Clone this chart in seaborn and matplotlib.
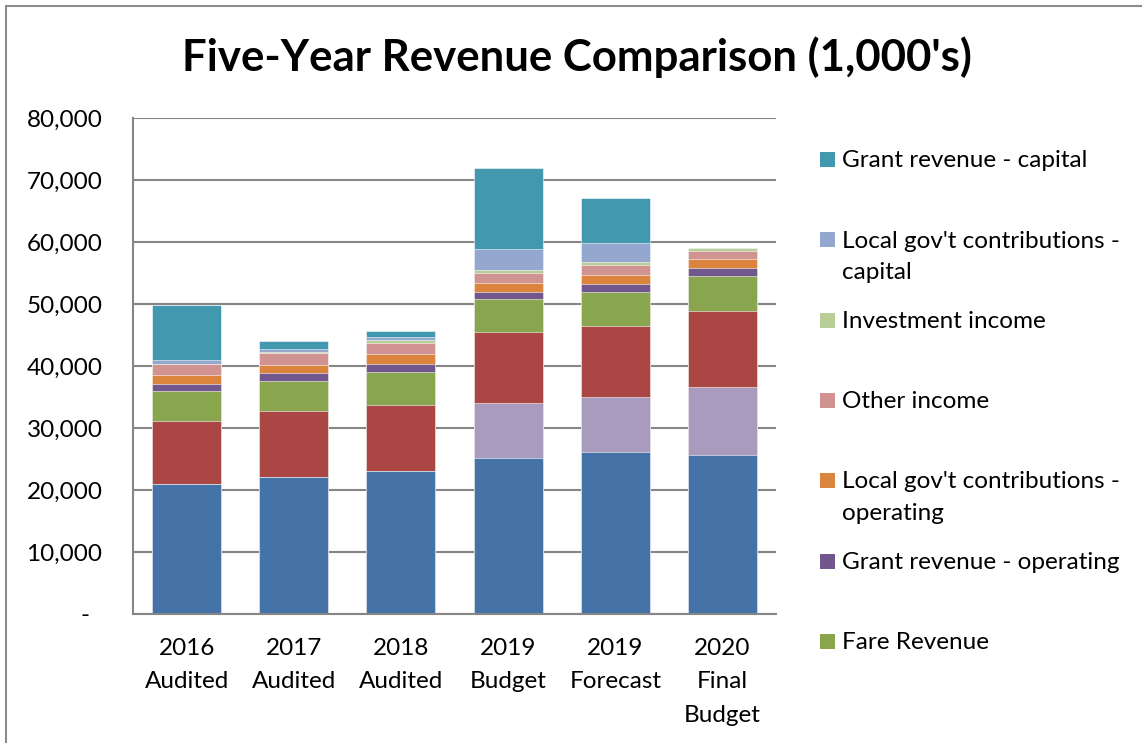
import numpy as np
import pandas as pd
import matplotlib
matplotlib.use("Agg")
import matplotlib.pyplot as plt
from matplotlib.patches import Rectangle
import seaborn as sns

# ---------------- data (1,000's) ----------------
categories = ["2016\nAudited", "2017\nAudited", "2018\nAudited",
              "2019\nBudget", "2019\nForecast", "2020\nFinal\nBudget"]

# series listed bottom -> top of the stack
base_revenue = [21000, 22150, 23100, 25200, 26180, 25650]          # blue (legend entry cut off)
second_revenue = [0, 0, 0, 8760, 8760, 11020]                       # light purple (legend entry cut off)
third_revenue = [10150, 10650, 10650, 11560, 11560, 12260]          # red (legend entry cut off)
fare_revenue = [4800, 4840, 5320, 5220, 5380, 5540]
grant_operating = [1200, 1240, 1240, 1240, 1340, 1400]
local_operating = [1450, 1340, 1670, 1450, 1400, 1450]
other_income = [1700, 1830, 1780, 1610, 1610, 1290]
investment_income = [100, 270, 430, 430, 480, 380]
local_capital = [500, 430, 480, 3390, 3120, 0]
grant_capital = [8900, 1350, 970, 13000, 7310, 0]

series_names = ["Base revenue", "Second revenue", "Third revenue",
                "Fare Revenue", "Grant revenue - operating",
                "Local gov't contributions -\noperating", "Other income",
                "Investment income", "Local gov't contributions -\ncapital",
                "Grant revenue - capital"]
series_values = [base_revenue, second_revenue, third_revenue, fare_revenue,
                 grant_operating, local_operating, other_income,
                 investment_income, local_capital, grant_capital]
series_colors = ["#4573A7", "#A99BBD", "#AA4744", "#89A54E", "#72578F",
                 "#DB843D", "#D09392", "#B9CD97", "#94A8CF", "#4299AF"]
legend_count = 7   # only the top 7 entries fit in the legend box

yticks = [0, 10000, 20000, 30000, 40000, 50000, 60000, 70000, 80000]
ytick_labels = ["-  ", "10,000", "20,000", "30,000", "40,000", "50,000",
                "60,000", "70,000", "80,000"]

# ---------------- style ----------------
sns.set_theme(style="white")
plt.rcParams['font.family'] = ['Lato', 'DejaVu Sans']
FS = 17.5

W, H = 1142, 743
fig = plt.figure(figsize=(W / 100, H / 100), dpi=100)
fig.patch.set_facecolor("white")

ax = fig.add_axes([133 / W, 1 - 614 / H, (776 - 133) / W, (614 - 118) / H])

df = pd.DataFrame({name: vals for name, vals in zip(series_names, series_values)},
                  index=categories)
cum = df.cumsum(axis=1)

# draw cumulative bars from the top series down so lower segments overlay
for name, color in reversed(list(zip(series_names, series_colors))):
    sns.barplot(x=categories, y=cum[name].values, color=color, saturation=1,
                width=0.645, ax=ax, edgecolor=(1, 1, 1, 0.55), linewidth=0.7,
                order=categories)

grid_c = "#868686"
ax.set_ylim(0, 80000)
ax.set_xlim(-0.5, len(categories) - 0.5)
ax.set_yticks(yticks)
ax.set_yticklabels(ytick_labels)
ax.yaxis.grid(True, color=grid_c, linewidth=1.5)
ax.xaxis.grid(False)
ax.set_axisbelow(True)
for s in ["top", "right"]:
    ax.spines[s].set_visible(False)
for s in ["left", "bottom"]:
    ax.spines[s].set_color(grid_c)
    ax.spines[s].set_linewidth(1.5)
ax.set_xlabel("")
ax.set_ylabel("")
ax.tick_params(axis="y", length=0, pad=22, labelsize=FS, labelcolor="black")
ax.tick_params(axis="x", length=0, pad=17, labelsize=FS, labelcolor="black")
for t in ax.get_xticklabels():
    t.set_linespacing(1.74)

# title
fig.text(577 / W, 1 - 57 / H, "Five-Year Revenue Comparison (1,000's)",
         ha="center", va="center", fontsize=31.5, fontweight="bold", color="black")

# legend (laid out like the Excel legend: evenly spaced entries)
legend_items = list(zip(series_names, series_colors))[::-1][:legend_count]
for k, (name, color) in enumerate(legend_items):
    yc = 159.5 + 80.3 * k
    fig.add_artist(Rectangle((820 / W, 1 - (yc + 7.5) / H), 15 / W, 15 / H,
                             transform=fig.transFigure, facecolor=color,
                             edgecolor="none"))
    for j, line in enumerate(name.split("\n")):
        fig.text(842 / W, 1 - (yc + 7.8 + 31.5 * j) / H, line, ha="left",
                 va="baseline", fontsize=FS, color="black")

# chart-area border
fig.add_artist(Rectangle((6 / W, -0.5), 2.0, (1 - 6 / H) + 0.5,
                         transform=fig.transFigure, fill=False,
                         edgecolor="#8c8c8c", linewidth=1.5))

fig.savefig("out.png", dpi=100, facecolor="white")
